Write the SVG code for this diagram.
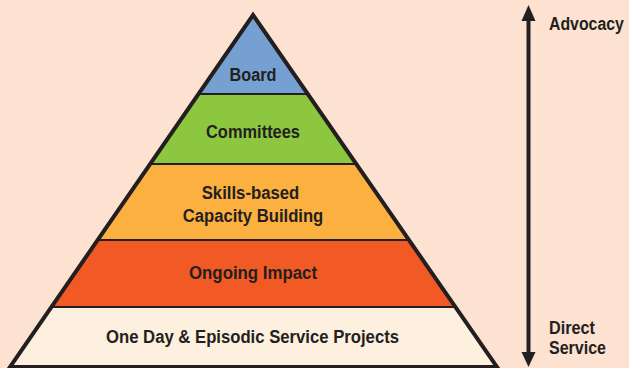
<svg xmlns="http://www.w3.org/2000/svg" width="629" height="368" viewBox="0 0 629 368">
  <style>
    .lbl { font-family: "Liberation Sans", Arial, sans-serif; font-weight: bold; font-size: 18px; fill: #231F20; text-anchor: middle; }
    .side { font-family: "Liberation Sans", Arial, sans-serif; font-weight: bold; font-size: 18px; fill: #231F20; }
    .band { stroke: none; }
    .div { stroke: #231F20; stroke-width: 2; }
  </style>
  <rect width="629" height="368" fill="#FDE2D2"/>

  <!-- pyramid bands: apex (253,15), base (10,367)-(497,367) -->
  <g id="board">
    <polygon class="band" fill="#769FD2" points="253,15 198.5,94 307.5,94"/>
    <text class="lbl" x="253" y="81" textLength="47" lengthAdjust="spacingAndGlyphs">Board</text>
  </g>
  <g id="committees">
    <polygon class="band" fill="#8DC63F" points="198.5,94 307.5,94 355.9,164 150.2,164"/>
    <text class="lbl" x="253" y="138" textLength="94" lengthAdjust="spacingAndGlyphs">Committees</text>
  </g>
  <g id="skills">
    <polygon class="band" fill="#FBB040" points="150.2,164 355.9,164 408.3,240 97.7,240"/>
    <text class="lbl" x="250.5" y="199" textLength="97.6" lengthAdjust="spacingAndGlyphs">Skills-based</text>
    <text class="lbl" x="253" y="222" textLength="140.6" lengthAdjust="spacingAndGlyphs">Capacity Building</text>
  </g>
  <g id="ongoing">
    <polygon class="band" fill="#F15A24" points="97.7,240 408.3,240 454.8,307 51.4,307"/>
    <text class="lbl" x="253" y="279" textLength="128" lengthAdjust="spacingAndGlyphs">Ongoing Impact</text>
  </g>
  <g id="oneday">
    <polygon class="band" fill="#FEF0DF" points="51.4,307 454.8,307 497,367 10,367"/>
    <text class="lbl" x="252.5" y="343" textLength="293" lengthAdjust="spacingAndGlyphs">One Day &amp; Episodic Service Projects</text>
  </g>

  <g id="connectors">
    <line class="div" x1="198.5" y1="94" x2="307.5" y2="94"/>
    <line class="div" x1="150.2" y1="164" x2="355.9" y2="164"/>
    <line class="div" x1="97.7" y1="240" x2="408.3" y2="240"/>
    <line class="div" x1="51.4" y1="307" x2="454.8" y2="307"/>
    <polygon points="253,15 497,367 10,367" fill="none" stroke="#231F20" stroke-width="4" stroke-linejoin="miter"/>
    <line x1="528.5" y1="20" x2="528.5" y2="353" stroke="#231F20" stroke-width="4"/>
    <path d="M528.5,5 L535.5,21 L521.5,21 z" fill="#231F20"/>
    <path d="M528.5,367 L535.5,352 L521.5,352 z" fill="#231F20"/>
  </g>

  <g id="labels-side">
    <text class="side" style="font-size:16px" transform="translate(549,30) scale(0.99,1.12)">Advocacy</text>
    <text class="side" x="549" y="334" textLength="46" lengthAdjust="spacingAndGlyphs">Direct</text>
    <text class="side" x="549" y="354" textLength="57" lengthAdjust="spacingAndGlyphs">Service</text>
  </g>
</svg>
